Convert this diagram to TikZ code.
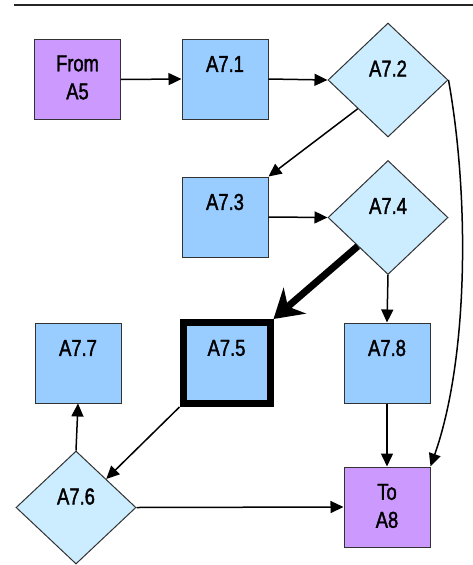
\documentclass[tikz,border=0pt]{standalone}
\usepackage{fontspec}
\setmainfont{Liberation Sans}[FakeStretch=0.8,FakeBold=1.6]
\usetikzlibrary{shapes.geometric,arrows.meta}
\definecolor{purp}{RGB}{204,153,255}
\definecolor{bluebox}{RGB}{153,204,255}
\definecolor{lightd}{RGB}{204,236,255}
\definecolor{edge}{RGB}{50,50,50}
\tikzset{
  box/.style={rectangle, draw=edge, line width=1pt, minimum width=86pt, minimum height=80pt, inner sep=0pt},
  pbox/.style={box, fill=purp},
  bbox/.style={box, fill=bluebox},
  dia/.style={diamond, draw=edge, line width=1pt, fill=lightd, minimum width=120pt, minimum height=114pt, inner sep=0pt},
  lbl/.style={inner sep=0pt, font=\fontsize{23}{28}\selectfont, align=center},
  arr/.style={line width=1.5pt, -{Triangle[length=13pt,width=12pt]}},
  bigarr/.style={line width=7pt, -{Stealth[length=28pt,width=34pt,inset=9pt]}}
}
\begin{document}
\begin{tikzpicture}[x=1pt,y=-1pt]
\useasboundingbox (0,0) rectangle (473,565);
\coordinate (ls) at (14,5);
\coordinate (le) at (473,5);
\draw[line width=1.8pt, black!85] (ls) -- (le);

\node[pbox] (from) at (77.5,79.5) {};
\node[bbox] (a71) at (225,79) {};
\node[dia] (a72) at (388,80) {};
\node[bbox] (a73) at (225,217) {};
\node[dia] (a74) at (388,217.5) {};
\node[bbox, draw=black, line width=7pt, minimum width=87pt, minimum height=81pt] (a75) at (226.5,363) {};
\node[bbox] (a77) at (78,363) {};
\node[bbox] (a78) at (387,363) {};
\node[dia, minimum height=113pt] (a76) at (76,507.5) {};
\node[pbox] (to) at (387,507) {};

\node[lbl] (tfrom) at ([yshift=2pt]from.center) {From\\A5};
\node[lbl] (t71) at ([yshift=15pt]a71.center) {A7.1};
\node[lbl] (t72) at ([yshift=11.5pt]a72.center) {A7.2};
\node[lbl] (t73) at ([yshift=15pt]a73.center) {A7.3};
\node[lbl] (t74) at ([yshift=11.5pt]a74.center) {A7.4};
\node[lbl] (t75) at ([yshift=15pt]a75.center) {A7.5};
\node[lbl] (t77) at ([yshift=15pt]a77.center) {A7.7};
\node[lbl] (t78) at ([yshift=15pt]a78.center) {A7.8};
\node[lbl] (t76) at ([yshift=11pt]a76.center) {A7.6};
\node[lbl] (tto) at ([yshift=1pt]to.center) {To\\A8};

\draw[arr] (from.east) -- (a71.west);
\draw[arr] (a71.east) -- (a72.west);
\draw[arr] (a72.south west) -- (a73.north east);
\draw[arr] (a73.east) -- (a74.west);
\draw[bigarr] (a74.south west) -- (a75.north east);
\draw[arr] (a74.south) -- (a78.north);
\draw[arr] (a78.south) -- (to.north);
\draw[arr] (a72.east) .. controls (470,200) and (468,360) .. (to.north east);
\draw[arr] (a75.south west) -- (a76.north east);
\draw[arr] (a76.north) -- (a77.south);
\draw[arr] (a76.east) -- (to.west);
\end{tikzpicture}
\end{document}
